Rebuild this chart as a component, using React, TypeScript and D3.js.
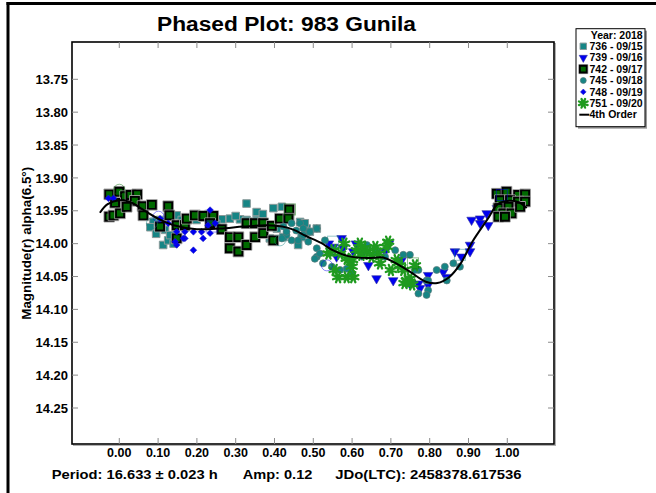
import React from 'react';
import * as d3 from 'd3';

// tick values
const xTicks = [0, 0.1, 0.2, 0.3, 0.4, 0.5, 0.6, 0.7, 0.8, 0.9, 1.0];
const yTicks = [13.75, 13.8, 13.85, 13.9, 13.95, 14.0, 14.05, 14.1, 14.15, 14.2, 14.25];

// [phase, magnitude]
const s736: [number, number][] = [
  [0.088, 13.967], [0.105, 13.964], [0.118, 13.979], [0.113, 14.002], [0.126, 13.995], [0.131, 13.987],
  [0.148, 13.957], [0.161, 13.964], [0.199, 13.964], [0.264, 13.963], [0.285, 13.962], [0.311, 13.963],
  [0.328, 13.939], [0.354, 13.952], [0.328, 13.964], [0.354, 13.964], [0.397, 13.946], [0.419, 13.944],
  [0.44, 13.962], [0.466, 13.967], [0.483, 13.977], [0.509, 13.977], [0.388, 13.992], [0.423, 13.99],
  [0.461, 14.002], [0.406, 13.977], [0.478, 13.969], [0.491, 13.982], [0.47, 13.99], [0.08, 13.975],
  [0.095, 13.985], [0.14, 14.0], [0.23, 13.955], [0.25, 13.97], [0.37, 13.955], [0.3, 13.958],
  [0.215, 13.96], [0.17, 13.975],
];
const s739: [number, number][] = [
  [0.573, 13.992], [0.552, 14.005], [0.577, 14.007], [0.603, 14.012], [0.625, 14.017], [0.642, 14.033],
  [0.663, 14.053], [0.685, 14.012], [0.706, 14.056], [0.728, 14.025], [0.749, 14.061], [0.771, 14.061],
  [0.796, 14.048], [0.796, 14.063], [0.775, 14.068], [0.835, 14.043], [0.844, 14.051], [0.865, 14.012],
  [0.882, 14.02], [0.904, 14.002], [0.904, 14.012], [0.908, 13.964], [0.93, 13.962], [0.93, 13.969],
  [0.947, 13.954], [0.951, 13.972], [0.973, 13.946], [0.99, 13.939], [0.986, 13.926], [0.54, 14.0],
  [0.56, 14.02], [0.61, 14.0], [0.695, 14.0],
];
const s742: [number, number][] = [
  [-0.026, 13.925], [0.0, 13.921], [0.015, 13.928], [0.029, 13.926], [0.046, 13.925], [0.04, 13.935],
  [0.004, 13.944], [-0.011, 13.938], [-0.026, 13.959], [-0.015, 13.957], [0.002, 13.954], [0.019, 13.944],
  [0.06, 13.943], [0.084, 13.941], [0.062, 13.957], [0.126, 13.943], [0.129, 13.957], [0.105, 13.974],
  [0.148, 13.972], [0.169, 13.972], [0.174, 13.962], [0.195, 13.957], [0.148, 13.992], [0.217, 13.958],
  [0.242, 13.958], [0.234, 13.969], [0.264, 13.978], [0.285, 13.99], [0.307, 13.99], [0.285, 14.007],
  [0.307, 14.012], [0.328, 14.002], [0.35, 13.99], [0.328, 13.969], [0.35, 13.969], [0.371, 13.969],
  [0.371, 13.984], [0.393, 13.973], [0.397, 13.995], [0.414, 13.962], [0.438, 13.948], [0.436, 13.962],
  [0.973, 13.924], [0.998, 13.921], [1.028, 13.926], [1.046, 13.925], [0.981, 13.934], [1.007, 13.934],
  [1.028, 13.936], [1.046, 13.936], [0.977, 13.946], [1.003, 13.944], [0.99, 13.954], [1.011, 13.954],
  [1.033, 13.944], [0.977, 13.959], [0.994, 13.959],
];
const s745: [number, number][] = [
  [0.423, 13.974], [0.444, 13.969], [0.466, 13.969], [0.474, 13.977], [0.491, 13.982], [0.509, 13.977],
  [0.431, 13.987], [0.444, 13.995], [0.461, 13.995], [0.474, 13.987], [0.487, 13.997], [0.509, 14.007],
  [0.509, 14.02], [0.419, 13.992], [0.431, 13.982], [0.53, 13.995], [0.504, 14.023], [0.517, 14.015],
  [0.539, 14.015], [0.569, 14.04], [0.586, 14.038], [0.595, 14.028], [0.638, 14.002], [0.663, 14.012],
  [0.685, 14.02], [0.711, 14.01], [0.732, 14.017], [0.749, 14.017], [0.771, 14.04], [0.762, 14.04],
  [0.792, 14.056], [0.796, 14.071], [0.792, 14.078], [0.771, 14.076], [0.818, 14.04], [0.839, 14.035],
  [0.844, 14.056], [0.861, 14.03], [0.878, 14.035], [0.796, 14.056], [0.525, 14.03], [0.548, 14.035],
  [0.6, 14.045], [0.456, 13.98],
];
const s748: [number, number][] = [
  [-0.028, 13.931], [-0.015, 13.931], [0.105, 13.962], [0.148, 13.982], [0.169, 13.982], [0.169, 13.992],
  [0.191, 13.982], [0.212, 13.982], [0.234, 13.949], [0.216, 13.992], [0.191, 14.01], [0.148, 14.002],
  [0.229, 13.972], [0.247, 13.969], [0.126, 13.969], [0.165, 13.992], [0.144, 13.997], [0.234, 13.984],
];
const s751: [number, number][] = [
  [0.539, 14.015], [0.552, 14.01], [0.569, 14.015], [0.586, 14.023], [0.599, 14.035], [0.564, 14.051],
  [0.603, 14.051], [0.612, 14.01], [0.629, 14.007], [0.642, 14.012], [0.65, 14.02], [0.668, 14.015],
  [0.672, 14.03], [0.693, 13.997], [0.689, 14.005], [0.715, 14.025], [0.723, 14.033], [0.732, 14.04],
  [0.741, 14.056], [0.749, 14.053], [0.762, 14.033], [0.624, 14.017], [0.586, 14.051], [0.58, 14.0],
  [0.62, 14.0], [0.66, 14.005], [0.7, 14.04], [0.735, 14.06], [0.755, 14.062], [0.6, 14.025],
  [0.555, 14.04],
];
// hollow (excluded) points: [series, phase, mag, shape]
const excluded: [string, number, number, string][] = [
  ['742', 0.0, 13.918, 'circle'], ['748', 0.101, 13.959, 'circle'], ['745', 0.084, 13.969, 'circle'],
  ['739', 0.238, 13.974, 'square'], ['742', 0.44, 13.948, 'square'], ['745', 0.414, 13.995, 'circle'],
  ['748', 0.535, 14.033, 'circle'], ['736', 0.551, 13.997, 'square'], ['742', 0.757, 14.03, 'square'],
  ['736', 0.878, 14.017, 'square'], ['739', 0.986, 13.926, 'square'],
];
// 4th order fit
const fitCurve: [number, number][] = [
  [-0.05, 13.953], [-0.03, 13.94], [0.0, 13.934], [0.03, 13.937], [0.06, 13.948], [0.1, 13.962],
  [0.14, 13.972], [0.2, 13.978], [0.26, 13.977], [0.32, 13.974], [0.38, 13.972], [0.42, 13.974],
  [0.45, 13.979], [0.48, 13.988], [0.52, 13.999], [0.55, 14.01], [0.59, 14.019], [0.64, 14.022],
  [0.68, 14.021], [0.71, 14.029], [0.75, 14.043], [0.79, 14.058], [0.82, 14.06], [0.85, 14.051],
  [0.88, 14.03], [0.91, 13.997], [0.95, 13.962], [0.975, 13.94], [1.0, 13.935], [1.03, 13.937],
  [1.05, 13.946],
];
const legendLabels = ['736 - 09/15', '739 - 09/16', '742 - 09/17', '745 - 09/18', '748 - 09/19', '751 - 09/20', '4th Order'];

const FONT = '"Liberation Sans", Arial, sans-serif';
const TEAL = '#168585';
const BLUE = '#0000f0';
const DKGREEN = '#006a00';
const STARGREEN = '#1f9a1f';

const sq = (s: number) => d3.symbol().type(d3.symbolSquare).size(s * s)() as string;
const tri = (s: number) => d3.symbol().type(d3.symbolTriangle).size(s)() as string;
const circ = (r: number) => d3.symbol().type(d3.symbolCircle).size(Math.PI * r * r)() as string;
const star = (r: number) => {
  let p = '';
  for (let i = 0; i < 8; i++) {
    const a = (i * Math.PI) / 4 + Math.PI / 8;
    p += `M0,0L${(r * Math.cos(a)).toFixed(2)},${(r * Math.sin(a)).toFixed(2)}`;
  }
  return p;
};

const colorOf: Record<string, string> = { '736': TEAL, '739': BLUE, '742': DKGREEN, '745': TEAL, '748': BLUE, '751': STARGREEN };

function Marker({ kind, cx, cy, k = 1 }: { kind: string; cx: number; cy: number; k?: number }) {
  const t = `translate(${cx},${cy})`;
  if (kind === '736')
    return <path transform={t} d={sq(7.6 * k)} fill={TEAL} stroke="#8a9a9a" strokeWidth={1} />;
  if (kind === '739')
    return <path transform={`${t} rotate(180)`} d={tri(40 * k * k)} fill={BLUE} stroke="#3030a0" strokeWidth={0.6} />;
  if (kind === '742')
    return (
      <g transform={t}>
        <path d={sq(10.6 * k)} fill="none" stroke="#a0a0a0" strokeWidth={1} />
        <path d={sq(8 * k)} fill={DKGREEN} stroke="#000" strokeWidth={1.9} />
      </g>
    );
  if (kind === '745')
    return <path transform={t} d={circ(3.5 * k)} fill={TEAL} stroke="#5a7a7a" strokeWidth={0.7} />;
  if (kind === '748')
    return <path transform={`${t} rotate(45)`} d={sq(4.8 * k)} fill={BLUE} stroke="#2020c0" strokeWidth={0.5} />;
  return (
    <g transform={t}>
      <path d={star(5.5 * k)} stroke={STARGREEN} strokeWidth={2.3} strokeLinecap="round" />
      <circle r={2.5 * k} fill={STARGREEN} />
    </g>
  );
}

export default function App() {
  const L = 72, R = 554, T = 42, B = 444;
  const x = d3.scaleLinear().domain([-0.1219, 1.1204]).range([L, R]);
  const y = d3.scaleLinear().domain([13.75, 14.25]).range([79.3, 408]);

  const line = d3
    .line<[number, number]>()
    .x((d) => x(d[0]))
    .y((d) => y(d[1]))
    .curve(d3.curveCatmullRom.alpha(0.5));

  const series: [string, [number, number][]][] = [
    ['736', s736], ['739', s739], ['742', s742], ['745', s745], ['748', s748], ['751', s751],
  ];

  const legendX = 576, legendY = 28.7, legendW = 69, legendH = 98;
  const rowY = (i: number) => 38.5 + i * 11.4;

  return (
    <svg width={656} height={493} style={{ position: 'absolute', left: 0, top: 0, background: '#fff' }} fontFamily={FONT}>
      <rect x={0} y={0} width={656} height={493} fill="#fff" />
      {/* outer border */}
      <line x1={6.5} x2={656} y1={3.5} y2={3.5} stroke="#000" strokeWidth={3} />
      <line x1={8} x2={8} y1={2} y2={493} stroke="#000" strokeWidth={3} />

      {/* title */}
      <text x={157} y={31} fontSize={19.5} fontWeight="bold" textLength={259} lengthAdjust="spacingAndGlyphs">
        Phased Plot: 983 Gunila
      </text>

      {/* frame shadow + frame */}
      <rect x={L + 1.5} y={T + 1.5} width={R - L} height={B - T} fill="none" stroke="#b0b0b0" strokeWidth={1} />
      <rect x={L} y={T} width={R - L} height={B - T} fill="#fff" stroke="#000" strokeWidth={1.6} />

      {/* ticks */}
      {xTicks.map((t) => (
        <g key={'xt' + t} stroke="#8c8c8c" strokeWidth={1}>
          <line x1={x(t)} x2={x(t)} y1={B} y2={B - 6} />
          <line x1={x(t)} x2={x(t)} y1={T} y2={T + 6} />
        </g>
      ))}
      {yTicks.map((t) => (
        <g key={'yt' + t} stroke="#8c8c8c" strokeWidth={1}>
          <line x1={L} x2={L + 6} y1={y(t)} y2={y(t)} />
          <line x1={R} x2={R - 6} y1={y(t)} y2={y(t)} />
        </g>
      ))}
      {xTicks.map((t) => (
        <text key={'xl' + t} x={x(t)} y={456.7} fontSize={12.5} fontWeight="bold" textAnchor="middle">
          {t.toFixed(2)}
        </text>
      ))}
      {yTicks.map((t) => (
        <text key={'yl' + t} x={68} y={y(t)} dy="0.36em" fontSize={13} fontWeight="bold" textAnchor="end">
          {t.toFixed(2)}
        </text>
      ))}

      {/* axis title */}
      <text
        transform="translate(31,243.3) rotate(-90)"
        fontSize={13}
        fontWeight="bold"
        textAnchor="middle"
        textLength={153}
        lengthAdjust="spacingAndGlyphs"
      >
        Magnitude(r) alpha(6.5°)
      </text>

      {/* data */}
      <g>
        {series.map(([k, pts]) => (
          <g key={k}>
            {pts.map((d, i) => (
              <Marker key={i} kind={k} cx={x(d[0])} cy={y(d[1])} />
            ))}
          </g>
        ))}
        {excluded.map((d, i) =>
          d[3] === 'circle' ? (
            <circle key={'ex' + i} cx={x(d[1])} cy={y(d[2])} r={5.5} fill="none" stroke={colorOf[d[0]]} strokeOpacity={0.45} strokeWidth={1} />
          ) : (
            <rect key={'ex' + i} x={x(d[1]) - 5.5} y={y(d[2]) - 5.5} width={11} height={11} fill="none" stroke={colorOf[d[0]]} strokeOpacity={0.45} strokeWidth={1} />
          )
        )}
        <path d={line(fitCurve) as string} fill="none" stroke="#000" strokeWidth={2} />
      </g>

      {/* legend */}
      <rect x={legendX + 2} y={legendY + 2} width={legendW} height={legendH} fill="#9a9a9a" />
      <rect x={legendX} y={legendY} width={legendW} height={legendH} fill="#fff" stroke="#000" strokeWidth={1} />
      <text x={642.7} y={rowY(0)} fontSize={10.5} fontWeight="bold" textAnchor="end">
        Year: 2018
      </text>
      {legendLabels.map((lab, i) => {
        const yy = rowY(i + 1);
        const key = ['736', '739', '742', '745', '748', '751', 'fit'][i];
        return (
          <g key={lab}>
            {key === 'fit' ? (
              <line x1={579.3} x2={589.3} y1={yy - 3.6} y2={yy - 3.6} stroke="#000" strokeWidth={2} />
            ) : (
              <Marker kind={key} cx={583.3} cy={yy - 3.6} k={0.85} />
            )}
            <text x={589.5} y={yy} fontSize={10.5} fontWeight="bold">
              {lab}
            </text>
          </g>
        );
      })}

      {/* footer */}
      <text x={51.7} y={479.3} fontSize={13.5} fontWeight="bold" textLength={166} lengthAdjust="spacingAndGlyphs">
        Period: 16.633 ± 0.023 h
      </text>
      <text x={242.7} y={479.3} fontSize={13.5} fontWeight="bold" textLength={69.7} lengthAdjust="spacingAndGlyphs">
        Amp: 0.12
      </text>
      <text x={335.3} y={479.3} fontSize={13.5} fontWeight="bold" textLength={186.3} lengthAdjust="spacingAndGlyphs">
        JDo(LTC): 2458378.617536
      </text>
    </svg>
  );
}
